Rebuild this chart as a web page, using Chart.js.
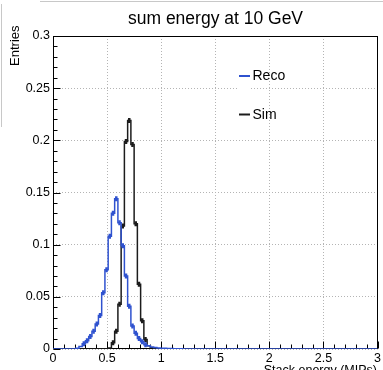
<!DOCTYPE html>
<html lang="en">
<head>
<meta charset="UTF-8">
<title>sum energy at 10 GeV</title>
<script src="https://cdn.jsdelivr.net/npm/chart.js"></script>
<style>
  html, body { margin: 0; padding: 0; background: #fff; }
</style>
</head>
<body>
<canvas id="sumChart" width="383" height="370"></canvas>
<script>
// histogram: 100 bins of 0.03 MIPs from 0 to 3
const binWidth = 0.03;
const recoEntries = [
  0, 0, 0, 0, 0, 0, 0, 0.0008, 0.0025, 0.005,
  0.008, 0.012, 0.017, 0.024, 0.032, 0.054, 0.076, 0.108, 0.130, 0.144,
  0.121, 0.099, 0.070, 0.041, 0.022, 0.015, 0.010, 0.007, 0.004, 0.003,
  0.002, 0.0015, 0.001, 0.0008, 0.0006, 0.0005, 0.0004, 0.0003, 0.0002, 0.0002,
  0.0001, 0.0001, 0.0001, 0, 0, 0, 0, 0, 0, 0,
  0, 0, 0, 0, 0, 0, 0, 0, 0, 0,
  0, 0, 0, 0, 0, 0, 0, 0, 0, 0,
  0, 0, 0, 0, 0, 0, 0, 0, 0, 0,
  0, 0, 0, 0, 0, 0, 0, 0, 0, 0,
  0, 0, 0, 0, 0, 0, 0, 0, 0, 0
];
const simEntries = [
  0, 0, 0, 0, 0, 0, 0, 0, 0, 0,
  0, 0, 0, 0, 0, 0, 0, 0.001, 0.006, 0.017,
  0.043, 0.118, 0.199, 0.219, 0.196, 0.120, 0.062, 0.027, 0.009, 0.003,
  0.0012, 0.0005, 0.0002, 0, 0, 0, 0, 0, 0, 0,
  0, 0, 0, 0, 0, 0, 0, 0, 0, 0,
  0, 0, 0, 0, 0, 0, 0, 0, 0, 0,
  0, 0, 0, 0, 0, 0, 0, 0, 0, 0,
  0, 0, 0, 0, 0, 0, 0, 0, 0, 0,
  0, 0, 0, 0, 0, 0, 0, 0, 0, 0,
  0, 0, 0, 0, 0, 0, 0, 0, 0, 0
];
const xTicks = [0, 0.5, 1, 1.5, 2, 2.5, 3];
const yTicks = [0, 0.05, 0.1, 0.15, 0.2, 0.25, 0.3];
const legendLabels = ['Reco', 'Sim'];

const recoColor = '#2f52cf';
const simColor = '#1c1c1c';
const font = '"Liberation Sans", Arial, Helvetica, sans-serif';

// step outline: one point per low bin edge, plus the last upper edge
function stepPoints(vals) {
  const pts = vals.map((v, i) => ({ x: +(i * binWidth).toFixed(4), y: v }));
  pts.push({ x: +(vals.length * binWidth).toFixed(4), y: vals[vals.length - 1] });
  return pts;
}
// bin centre marks (error bars look)
function centrePoints(vals) {
  return vals.map((v, i) => ({ x: (i + 0.5) * binWidth, y: v }));
}
const markRadius = ctx => (ctx.raw && ctx.raw.y >= 0.004 ? 2.5 : 0);

// ROOT style frame, ticks, titles and legend
const rootFrame = {
  id: 'rootFrame',
  beforeDatasetsDraw(chart) {
    const { ctx, chartArea: a, scales: { x, y } } = chart;
    ctx.save();
    ctx.fillStyle = '#fff';
    ctx.fillRect(238, 85, 13, 5); // legend box edge over the grid

    // frame and inner ticks, under the histograms
    ctx.strokeStyle = '#000';
    ctx.lineWidth = 1;
    const L = Math.round(a.left) + 0.5, R = Math.round(a.right) - 0.5;
    const T = Math.round(a.top) + 0.5, B = Math.round(a.bottom) - 0.5;
    ctx.strokeRect(L, T, R - L, B - T);

    ctx.beginPath();
    for (let i = 0; i <= 30; i++) {
      const py = Math.round(y.getPixelForValue(i * 0.01)) + 0.5;
      const len = i % 5 === 0 ? 7 : 4;
      ctx.moveTo(L, py); ctx.lineTo(L + len, py);
      const px = Math.round(x.getPixelForValue(i * 0.1)) + 0.5;
      ctx.moveTo(px, B); ctx.lineTo(px, B - len);
    }
    ctx.stroke();
    ctx.restore();
  },
  afterDraw(chart) {
    const ctx = chart.ctx;
    ctx.save();

    // title
    ctx.fillStyle = '#000';
    ctx.font = '17.5px ' + font;
    ctx.textAlign = 'center';
    ctx.textBaseline = 'alphabetic';
    ctx.fillText('sum energy at 10 GeV', 215.5, 23.5);

    // axis titles
    ctx.font = '12.5px ' + font;
    ctx.textAlign = 'right';
    ctx.fillText('Stack energy (MIPs)', 377, 374);
    ctx.save();
    ctx.translate(18.5, 25.5);
    ctx.rotate(-Math.PI / 2);
    ctx.font = '13px ' + font;
    ctx.fillText('Entries', 0, 0);
    ctx.restore();

    // legend
    const colors = [recoColor, simColor];
    const ys = [76, 114.5];
    ctx.font = '14px ' + font;
    ctx.textAlign = 'left';
    ctx.textBaseline = 'middle';
    legendLabels.forEach((lab, i) => {
      ctx.strokeStyle = colors[i];
      ctx.lineWidth = 2;
      ctx.beginPath();
      ctx.moveTo(239, ys[i]); ctx.lineTo(250, ys[i]);
      ctx.stroke();
      ctx.fillStyle = '#000';
      ctx.fillText(lab, 252.5, ys[i] + 0.5);
    });

    // screenshot window edge
    ctx.strokeStyle = '#c8c8c8';
    ctx.lineWidth = 1;
    ctx.beginPath();
    ctx.moveTo(40, 1.5); ctx.lineTo(383, 1.5);
    ctx.moveTo(1.5, 4); ctx.lineTo(1.5, 127);
    ctx.stroke();
    ctx.restore();
  }
};

new Chart(document.getElementById('sumChart'), {
  type: 'line',
  data: {
    datasets: [
      {
        label: 'Reco',
        data: stepPoints(recoEntries),
        stepped: 'before',
        borderColor: recoColor,
        borderWidth: 1.5,
        pointRadius: 0,
        fill: false
      },
      {
        label: 'Reco marks',
        data: centrePoints(recoEntries),
        showLine: false,
        pointStyle: 'line',
        pointRotation: 90,
        pointRadius: markRadius,
        pointBorderColor: recoColor,
        pointBorderWidth: 2.5
      },
      {
        label: 'Sim',
        data: stepPoints(simEntries),
        stepped: 'before',
        borderColor: simColor,
        borderWidth: 1.5,
        pointRadius: 0,
        fill: false
      },
      {
        label: 'Sim marks',
        data: centrePoints(simEntries),
        showLine: false,
        pointStyle: 'line',
        pointRotation: 90,
        pointRadius: markRadius,
        pointBorderColor: simColor,
        pointBorderWidth: 2.5
      }
    ]
  },
  options: {
    responsive: false,
    animation: false,
    events: [],
    layout: { padding: { top: 36, right: 5, bottom: 1, left: 0 } },
    plugins: { legend: { display: false }, tooltip: { enabled: false } },
    scales: {
      x: {
        type: 'linear',
        min: 0,
        max: 3,
        afterBuildTicks: s => { s.ticks = xTicks.map(v => ({ value: v })); },
        afterFit: s => { s.height = 20; },
        ticks: {
          font: { family: font, size: 12.5 },
          color: '#000',
          padding: 2,
          maxRotation: 0,
          autoSkip: false,
          callback: v => String(v)
        },
        grid: { color: '#b4b4b4', drawTicks: false, tickLength: 0 },
        border: { display: false, dash: [1, 2] }
      },
      y: {
        min: 0,
        max: 0.3,
        afterBuildTicks: s => { s.ticks = yTicks.map(v => ({ value: v })); },
        afterFit: s => { s.width = 53; },
        ticks: {
          font: { family: font, size: 12.5 },
          color: '#000',
          padding: 3,
          autoSkip: false,
          callback: v => String(+v.toFixed(2))
        },
        grid: { color: '#b4b4b4', drawTicks: false, tickLength: 0 },
        border: { display: false, dash: [1, 2] }
      }
    }
  },
  plugins: [rootFrame]
});
</script>
</body>
</html>
